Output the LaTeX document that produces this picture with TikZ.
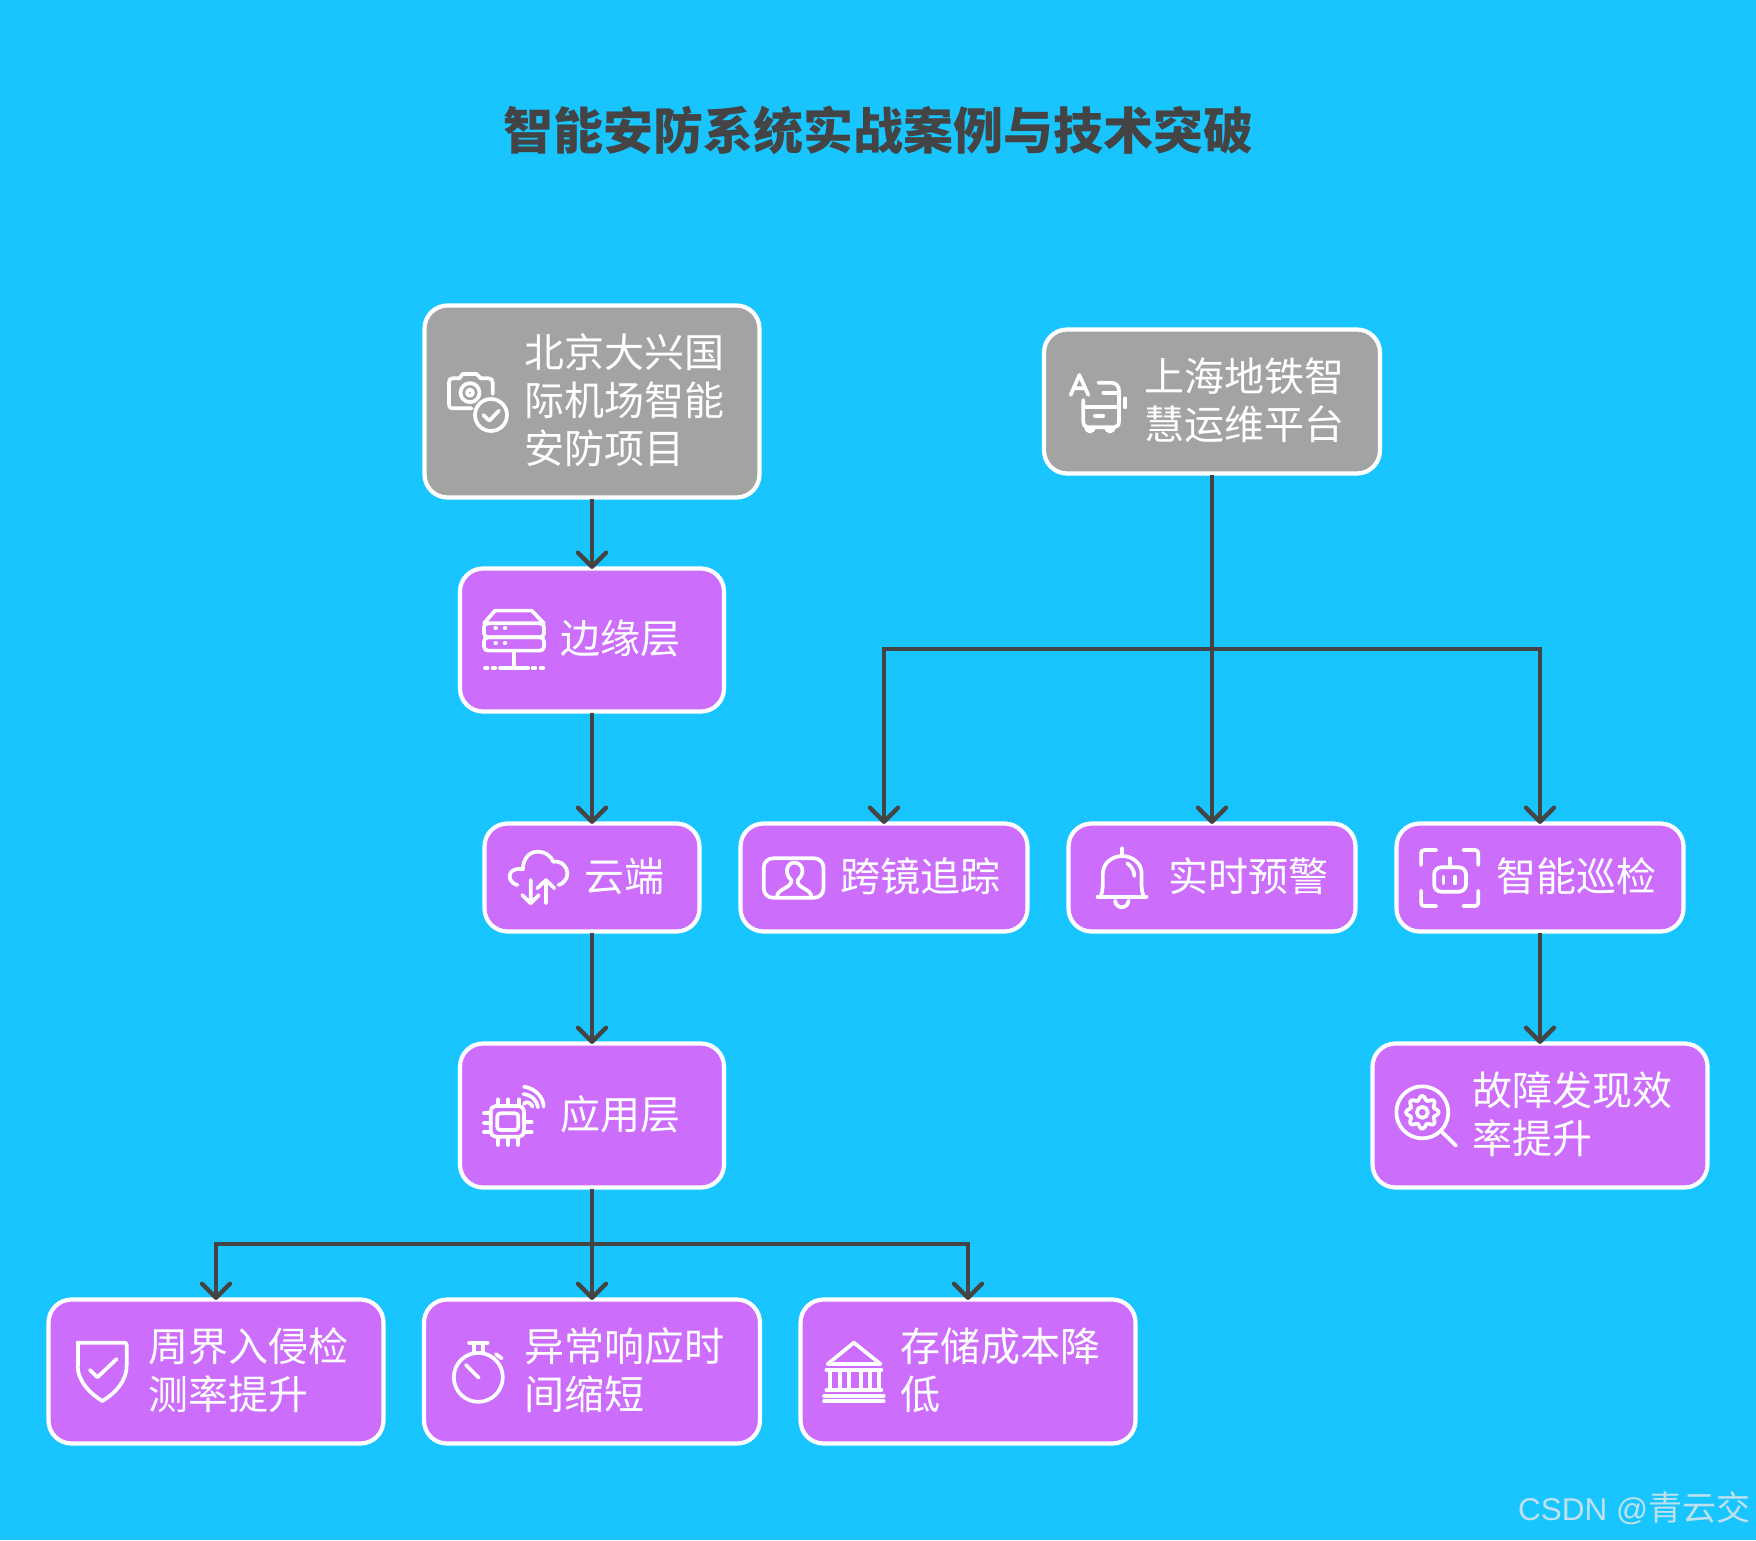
\documentclass[tikz,border=0pt]{standalone}
\usepackage{fontspec}
\setmainfont{Noto Sans CJK SC}
\newfontfamily\wmlatin{Liberation Sans}
\usetikzlibrary{arrows.meta}
\definecolor{bgblue}{HTML}{19C5FF}
\definecolor{boxpurple}{HTML}{CC6DFB}
\definecolor{boxgray}{HTML}{A3A3A3}
\definecolor{linegray}{HTML}{444444}
\definecolor{wmcolor}{HTML}{BFE1EE}
\tikzset{
  boxbase/.style={draw=white,line width=4.2pt,rounded corners=23pt,inner sep=0pt},
  boxp/.style={boxbase,fill=boxpurple},
  boxg/.style={boxbase,fill=boxgray},
  lbl/.style={anchor=west,inner sep=0pt,text=white,align=left,font=\fontsize{40}{48}\selectfont},
  conn/.style={draw=linegray,line width=4.4pt,shorten >=-2.5pt,shorten <=-1pt,-{Straight Barb[length=14pt,width=28pt,round]}},
  icon/.style={draw=white,line width=3.7pt,line cap=round,line join=round},
  zone/.style n args={3}{shift={#1},x=#2,y=#3}
}
\begin{document}
\begin{tikzpicture}[x=1pt,y=-1pt]
\fill[bgblue] (0,0) rectangle (1756,1540);
\node[inner sep=0pt,text=linegray,font=\fontsize{50}{60}\selectfont\bfseries] (title) at (878,130) {智能安防系统实战案例与技术突破};

% connectors
\coordinate (jsh) at (1212,649);
\coordinate (japp) at (592,1244);

% boxes
\node[boxg,minimum width=335pt,minimum height=192pt] (bj) at (592,401.5) {};
\node[boxg,minimum width=336pt,minimum height=144pt] (sh) at (1212,401.5) {};
\node[boxp,minimum width=264pt,minimum height=143pt] (edge) at (592,640) {};
\node[boxp,minimum width=215pt,minimum height=108pt] (cloud) at (592,877.5) {};
\node[boxp,minimum width=287pt,minimum height=108pt] (track) at (884,877.5) {};
\node[boxp,minimum width=287pt,minimum height=108pt] (alert) at (1212,877.5) {};
\node[boxp,minimum width=287pt,minimum height=108pt] (patrol) at (1540,877.5) {};
\node[boxp,minimum width=264pt,minimum height=144pt] (app) at (592,1115.5) {};
\node[boxp,minimum width=335pt,minimum height=144pt] (fault) at (1540,1115.5) {};
\node[boxp,minimum width=335pt,minimum height=144pt] (perim) at (216,1371.5) {};
\node[boxp,minimum width=336pt,minimum height=144pt] (resp) at (592,1371.5) {};
\node[boxp,minimum width=335pt,minimum height=144pt] (store) at (968,1371.5) {};

% labels
\node[lbl] (bjt) at (524,400) {北京大兴国\\际机场智能\\安防项目};
\node[lbl] (sht) at (1144,400) {上海地铁智\\慧运维平台};
\node[lbl] (edget) at (560,638) {边缘层};
\node[lbl] (cloudt) at (584,876) {云端};
\node[lbl] (trackt) at (840,876) {跨镜追踪};
\node[lbl] (alertt) at (1168,876) {实时预警};
\node[lbl] (patrolt) at (1496,876) {智能巡检};
\node[lbl] (appt) at (560,1114) {应用层};
\node[lbl] (faultt) at (1472,1114) {故障发现效\\率提升};
\node[lbl] (perimt) at (148,1370) {周界入侵检\\测率提升};
\node[lbl] (respt) at (524,1370) {异常响应时\\间缩短};
\node[lbl] (storet) at (900,1370) {存储成本降\\低};

\draw[conn] (bj.south) -- (edge.north);
\draw[conn] (edge.south) -- (cloud.north);
\draw[conn] (cloud.south) -- (app.north);
\draw[conn] (sh.south) -- (alert.north);
\draw[conn] (jsh) -| (track.north);
\draw[conn] (jsh) -| (patrol.north);
\draw[conn] (patrol.south) -- (fault.north);
\draw[conn] (app.south) -- (resp.north);
\draw[conn] (japp) -| (perim.north);
\draw[conn] (japp) -| (store.north);

% camera icon
\begin{scope}[zone={(420,300)}{0.3333pt}{-0.3333pt},icon]
\draw (155,325) -- (97,325) .. controls (89,325) and (87,320) .. (87,313) -- (87,247) .. controls (87,240) and (90,235) .. (97,235) -- (118,235) -- (128,222) -- (170,222) -- (182,235) -- (206,235) .. controls (214,235) and (218,240) .. (218,247) -- (218,282);
\draw (150,278) circle[radius=9.5pt];
\draw (150,278) circle[radius=3pt];
\draw (213,345) circle[radius=16pt];
\draw (190,345) -- (208,362) -- (237,332);
\end{scope}
% server icon
\begin{scope}[zone={(420,300)}{0.3333pt}{-0.3333pt},icon]
\draw (192,970) -- (225,932) -- (335,932) -- (372,970);
\draw[rounded corners=4pt] (192,970) rectangle (372,1012);
\draw[rounded corners=4pt] (192,1012) rectangle (372,1052);
\draw (226,985) -- (228,985) (254,985) -- (256,985) (226,1030) -- (228,1030) (254,1030) -- (256,1030);
\draw (283,1052) -- (283,1105);
\draw (240,1105) -- (325,1105) (195,1105) -- (203,1105) (218,1105) -- (226,1105) (338,1105) -- (346,1105) (362,1105) -- (370,1105);
\end{scope}
% bus icon
\begin{scope}[zone={(1040,320)}{0.3333pt}{-0.3333pt},icon]
\draw (92,225) -- (118,165) -- (145,225) (100,205) -- (137,205);
\draw (175,188) -- (212,188) .. controls (228,188) and (237,198) .. (237,212) -- (237,305) .. controls (237,316) and (230,322) .. (222,322) -- (145,322) .. controls (136,322) and (130,316) .. (130,305) -- (130,240);
\draw (130,262) -- (237,262) (190,218) -- (237,218) (165,287) -- (190,287);
\draw (138,322) arc[start angle=180,end angle=360,radius=4pt];
\draw (198,322) arc[start angle=180,end angle=360,radius=4pt];
\draw (256,235) -- (256,262);
\end{scope}
% cloud icon
\begin{scope}[zone={(480,820)}{0.357pt}{-0.3333pt},icon]
\draw (105,195) .. controls (85,190) and (78,170) .. (86,158) .. controls (92,148) and (105,145) .. (120,148) .. controls (120,115) and (140,95) .. (160,95) .. controls (185,95) and (200,110) .. (205,125) .. controls (228,122) and (245,140) .. (245,160) .. controls (245,178) and (232,192) .. (220,195);
\draw (142,180) -- (142,250) (118,225) -- (142,250) -- (165,225);
\draw (185,250) -- (185,180) (160,205) -- (185,180) -- (208,205);
\end{scope}
% person card icon
\begin{scope}[zone={(480,820)}{0.357pt}{-0.3333pt},icon]
\draw[rounded corners=9pt] (795,115) rectangle (962,233);
\draw (832,230) .. controls (832,205) and (875,205) .. (872,180) .. controls (850,160) and (860,128) .. (880,128) .. controls (905,128) and (912,160) .. (890,180) .. controls (885,205) and (928,205) .. (928,230);
\end{scope}
% bell icon
\begin{scope}[zone={(1060,820)}{0.408pt}{-0.3333pt},icon]
\draw (152,85) -- (152,108);
\draw (92,230) -- (212,230);
\draw (100,228) .. controls (106,210) and (105,190) .. (105,160) .. controls (105,130) and (128,108) .. (152,108) .. controls (178,108) and (200,130) .. (200,160) .. controls (200,190) and (198,210) .. (205,228);
\draw (165,130) .. controls (176,140) and (182,152) .. (182,168);
\draw (135,242) .. controls (137,268) and (166,268) .. (168,242);
\end{scope}
% robot icon
\begin{scope}[zone={(1060,820)}{0.408pt}{-0.3333pt},icon]
\draw[rounded corners=3pt] (885,135) -- (885,90) -- (922,90);
\draw[rounded corners=3pt] (988,90) -- (1025,90) -- (1025,135);
\draw[rounded corners=3pt] (885,212) -- (885,258) -- (922,258);
\draw[rounded corners=3pt] (1025,212) -- (1025,258) -- (988,258);
\draw[rounded corners=7pt] (917,142) rectangle (995,215);
\draw (955,115) -- (955,142);
\draw (940,170) -- (940,190) (968,170) -- (968,190);
\end{scope}
% chip icon
\begin{scope}[zone={(450,1030)}{0.3333pt}{-0.3333pt},icon]
\draw[rounded corners=5pt] (122,228) rectangle (222,320);
\draw[rounded corners=3pt] (142,250) rectangle (205,300);
\draw (143,208) -- (143,228) (175,208) -- (175,228) (208,208) -- (208,228);
\draw (143,320) -- (143,345) (175,320) -- (175,345) (205,320) -- (205,345);
\draw (102,250) -- (122,250) (102,278) -- (122,278) (102,306) -- (122,306);
\draw (222,275) -- (245,275) (222,306) -- (245,306);
\draw (222,222) .. controls (228,210) and (245,220) .. (248,230);
\draw (220,192) .. controls (245,195) and (262,212) .. (264,232);
\draw (222,170) .. controls (255,175) and (280,200) .. (281,230);
\end{scope}
% shield icon
\begin{scope}[zone={(40,1290)}{0.3333pt}{-0.3333pt},icon]
\draw[rounded corners=2pt] (113,158) -- (260,158) -- (260,225);
\draw (260,225) .. controls (260,275) and (225,310) .. (187,333) .. controls (150,310) and (113,275) .. (113,225);
\draw[rounded corners=2pt] (113,225) -- (113,158);
\draw (150,240) -- (172,262) -- (230,207);
\end{scope}
% stopwatch icon
\begin{scope}[zone={(420,1290)}{0.4591pt}{-0.3333pt},icon]
\draw (127,262) circle[radius=24.5pt];
\draw (107,158) -- (147,158);
\draw (117,158) -- (117,190) (137,158) -- (137,190);
\draw (165,192) -- (178,205);
\draw (100,225) -- (128,263);
\end{scope}
% bank icon
\begin{scope}[zone={(420,1290)}{0.4591pt}{-0.3333pt},icon]
\draw (888,222) -- (945,158) -- (1003,222) -- cycle;
\draw (885,240) -- (1005,240) (885,300) -- (1005,300);
\draw (893,240) -- (893,300) (915,240) -- (915,300) (935,240) -- (935,300) (960,240) -- (960,300) (980,240) -- (980,300) (1000,240) -- (1000,300);
\draw (880,318) -- (1010,318) (880,333) -- (1010,333);
\end{scope}
% magnifier icon
\begin{scope}[zone={(1360,1030)}{0.3333pt}{-0.3333pt},icon]
\draw (187,247) circle[radius=26pt];
\draw (245,305) -- (288,347);
\draw (187,247) circle[radius=5.5pt];
\draw[shift={(187,247)}] plot[domain=0:360,samples=121,smooth] (\x:{43+6*cos(8*\x)}) -- cycle;
\end{scope}

% watermark
\node[anchor=west,inner sep=0pt,text=wmcolor,font=\fontsize{31.5}{36}\selectfont] (wm) at (1518,1508) {{\wmlatin CSDN @}{\fontsize{34}{36}\selectfont 青云交}};
\end{tikzpicture}
\end{document}
